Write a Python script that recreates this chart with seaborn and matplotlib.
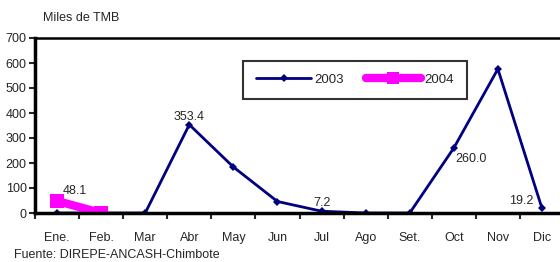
import seaborn as sns
import matplotlib
import matplotlib.pyplot as plt
import pandas as pd
matplotlib.use('Agg')

months = ['Ene.', 'Feb.', 'Mar', 'Abr', 'May', 'Jun', 'Jul', 'Ago', 'Set.', 'Oct', 'Nov', 'Dic']
values_2003 = [0, 0, 0, 353.4, 184, 46, 7.2, 0, 0, 260.0, 576, 19.2]
months_2004 = ['Ene.', 'Feb.']
values_2004 = [48.1, 0]
y_ticks = [0, 100, 200, 300, 400, 500, 600, 700]

sns.set_theme(style='white')
plt.rcParams['font.family'] = ['Liberation Sans', 'DejaVu Sans']

df03 = pd.DataFrame({'mes': range(len(months)), 'valor': values_2003})
df04 = pd.DataFrame({'mes': range(len(months_2004)), 'valor': values_2004})

fig = plt.figure(figsize=(5.6, 2.62), dpi=100)
ax = fig.add_axes([35 / 560, 49 / 262, 529 / 560, 175 / 262])

sns.lineplot(data=df03, x='mes', y='valor', ax=ax, color='#000080', lw=2,
             marker='D', markersize=4.5, markeredgewidth=0, label='2003')
sns.lineplot(data=df04, x='mes', y='valor', ax=ax, color='#ff00ff', lw=6,
             marker='s', markersize=10, markeredgewidth=0, label='2004')

ax.set_xlim(-0.5, 11.5)
ax.set_ylim(0, 700)
ax.set_yticks(y_ticks)
ax.set_xticks(range(len(months)))
ax.set_xticklabels(months)
ax.set_xticks([i + 0.5 for i in range(-1, 12)], minor=True)
ax.tick_params(axis='x', which='major', length=0, pad=14, labelsize=9)
ax.tick_params(axis='x', which='minor', length=4, width=1.5, direction='out', bottom=True)
ax.tick_params(axis='y', length=4, width=1.5, direction='out', left=True, labelsize=9, pad=2)
ax.set_xlabel('')
ax.set_ylabel('')

for side in ['left', 'bottom']:
    ax.spines[side].set_linewidth(2.5)
    ax.spines[side].set_color('black')
ax.spines['top'].set_linewidth(1.8)
ax.spines['top'].set_color('black')
ax.spines['right'].set_visible(False)

# etiquetas de datos
ax.annotate('48.1', (0, 48.1), xytext=(4, 5), textcoords='offset points', fontsize=9)
ax.annotate('353.4', (3, 353.4), xytext=(0, 3), textcoords='offset points', ha='center', fontsize=9)
ax.annotate('7.2', (6, 7.2), xytext=(0, 4), textcoords='offset points', ha='center', fontsize=9)
ax.annotate('260.0', (9, 260.0), xytext=(1, -10), textcoords='offset points', ha='left', fontsize=9)
ax.annotate('19.2', (11, 19.2), xytext=(-6, 3), textcoords='offset points', ha='right', fontsize=9)

leg = ax.legend(loc='upper left', bbox_to_anchor=(201 / 529, 1 - 16 / 175), ncol=2,
                frameon=True, fancybox=False, fontsize=9.5, handlelength=4.2,
                columnspacing=1.7, borderpad=1.0, handletextpad=0.2)
leg.get_frame().set_edgecolor('black')
leg.get_frame().set_linewidth(1.5)
leg.legend_handles[1].set_markersize(8)

fig.text(43 / 560, 1 - 18 / 262, 'Miles de TMB', fontsize=9, va='center')
fig.text(14 / 560, 1 - 255 / 262, 'Fuente: DIREPE-ANCASH-Chimbote', fontsize=9, va='center')

fig.savefig('out.png', dpi=100)
